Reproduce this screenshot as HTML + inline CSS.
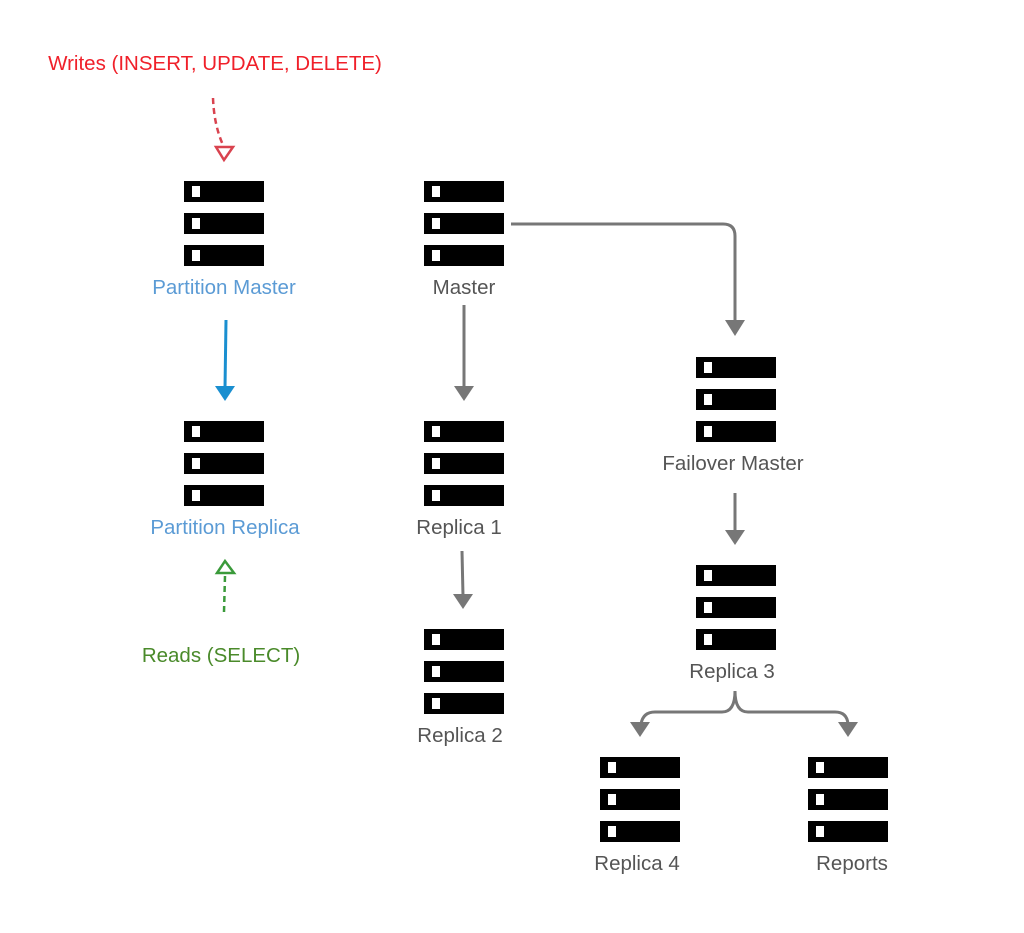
<!DOCTYPE html>
<html><head><style>
body{margin:0;background:#fff;width:1024px;height:928px;overflow:hidden}
svg text{font-family:"Liberation Sans","DejaVu Sans",sans-serif;font-size:20.5px}
</style></head><body>
<svg width="1024" height="928" viewBox="0 0 1024 928">
<defs>
<g id="srv">
<rect x="0" y="0" width="80" height="21" fill="#000"/>
<rect x="0" y="32" width="80" height="21" fill="#000"/>
<rect x="0" y="64" width="80" height="21" fill="#000"/>
<rect x="8" y="5" width="8" height="11" fill="#fff"/>
<rect x="8" y="37" width="8" height="11" fill="#fff"/>
<rect x="8" y="69" width="8" height="11" fill="#fff"/>
</g>
</defs>
<use href="#srv" x="184" y="181"/>
<use href="#srv" x="424" y="181"/>
<use href="#srv" x="184" y="421"/>
<use href="#srv" x="424" y="421"/>
<use href="#srv" x="424" y="629"/>
<use href="#srv" x="696" y="357"/>
<use href="#srv" x="696" y="565"/>
<use href="#srv" x="600" y="757"/>
<use href="#srv" x="808" y="757"/>

<g text-anchor="middle" fill="#555">
<text x="224" y="294" fill="#5b9bd5">Partition Master</text>
<text x="464" y="294">Master</text>
<text x="225" y="534" fill="#5b9bd5">Partition Replica</text>
<text x="459" y="534">Replica 1</text>
<text x="460" y="742">Replica 2</text>
<text x="733" y="470">Failover Master</text>
<text x="732" y="678">Replica 3</text>
<text x="637" y="870">Replica 4</text>
<text x="852" y="870">Reports</text>
<text x="215" y="70" fill="#f0202a">Writes (INSERT, UPDATE, DELETE)</text>
<text x="221" y="662" fill="#4a8a2a">Reads (SELECT)</text>
</g>

<path d="M213,98 Q214,125 223,145" fill="none" stroke="#d9434f" stroke-width="2.5" stroke-dasharray="6,4"/>
<path d="M216,147 L233,147 L224,160 Z" fill="#fff" stroke="#d9434f" stroke-width="2.5"/>
<path d="M225,576 L224,612" fill="none" stroke="#3a9a3a" stroke-width="2.5" stroke-dasharray="6,4"/>
<path d="M217,573 L234,573 L225,561 Z" fill="#fff" stroke="#3a9a3a" stroke-width="2.5"/>
<path d="M226,320 L225,388" stroke="#1a8fd0" stroke-width="3" fill="none"/>
<path d="M215,386 L235,386 L225,401 Z" fill="#1a8fd0"/>

<g stroke="#777" stroke-width="3" fill="none">
<path d="M511,224 L723,224 Q735,224 735,236 L735,322"/>
<path d="M464,305 L464,388"/>
<path d="M462,551 L463,596"/>
<path d="M735,493 L735,532"/>
<path d="M735,691 Q735,712 722,712 L655,712 Q643,712 641,724"/>
<path d="M735,691 Q735,712 748,712 L835,712 Q847,712 848,724"/>
</g>
<g fill="#777">
<path d="M725,320 L745,320 L735,336 Z"/>
<path d="M454,386 L474,386 L464,401 Z"/>
<path d="M453,594 L473,594 L463,609 Z"/>
<path d="M725,530 L745,530 L735,545 Z"/>
<path d="M630,722 L650,722 L640,737 Z"/>
<path d="M838,722 L858,722 L848,737 Z"/>
</g>
</svg>
</body></html>
